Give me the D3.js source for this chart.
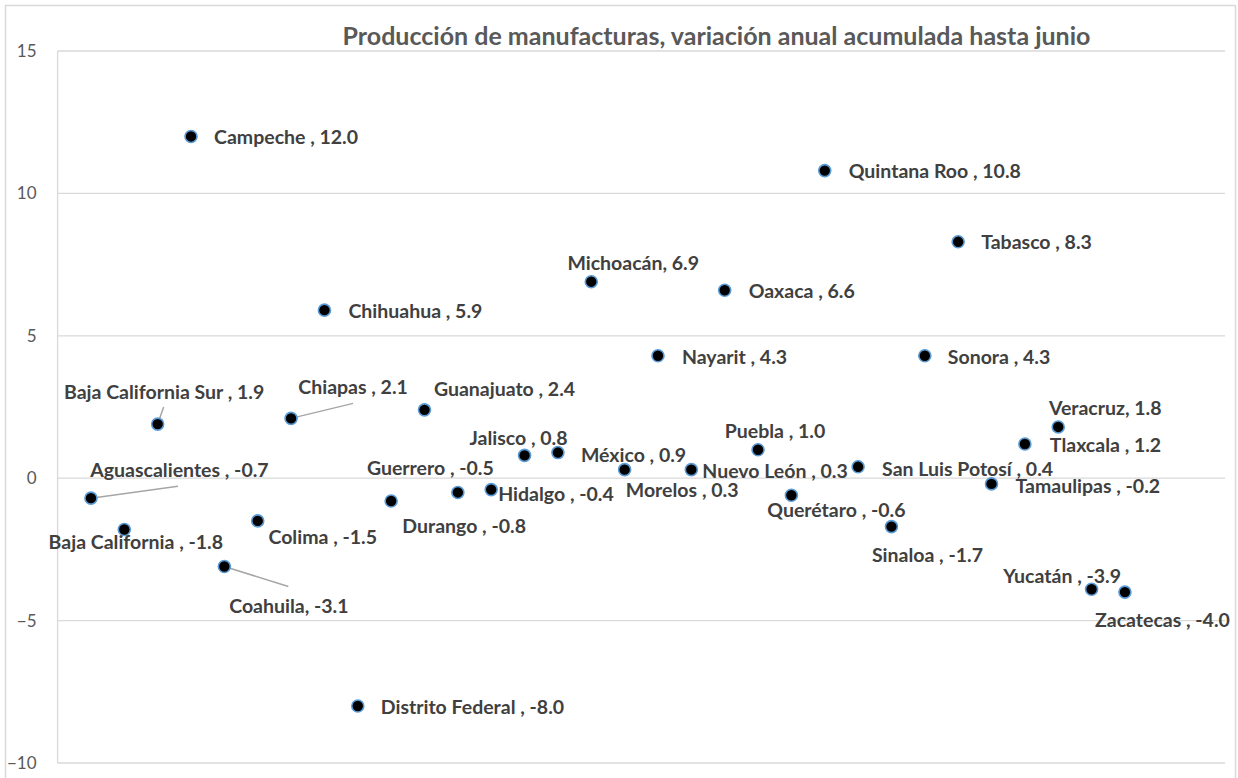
<!DOCTYPE html>
<html><head><meta charset="utf-8">
<script src="https://cdn.jsdelivr.net/npm/d3@7"></script>
<style>body{margin:0;background:#fff}svg{display:block}</style>
</head><body>
<script>
const states = ["Aguascalientes","Baja California","Baja California Sur","Campeche","Coahuila","Colima","Chiapas","Chihuahua","Distrito Federal","Durango","Guanajuato","Guerrero","Hidalgo","Jalisco","México","Michoacán","Morelos","Nayarit","Nuevo León","Oaxaca","Puebla","Querétaro","Quintana Roo","San Luis Potosí","Sinaloa","Sonora","Tabasco","Tamaulipas","Tlaxcala","Veracruz","Yucatán","Zacatecas"];
const values = [-0.7,-1.8,1.9,12.0,-3.1,-1.5,2.1,5.9,-8.0,-0.8,2.4,-0.5,-0.4,0.8,0.9,6.9,0.3,4.3,0.3,6.6,1.0,-0.6,10.8,0.4,-1.7,4.3,8.3,-0.2,1.2,1.8,-3.9,-4.0];
const labelSep = [" , "," , "," , "," , ",", "," , "," , "," , "," , "," , "," , "," , "," , "," , "," , ",", "," , "," , "," , "," , "," , "," , "," , "," , "," , "," , "," , "," , "," , ",", "," , "," , "];
const yTicks = [15,10,5,0,-5,-10];
const title = "Producción de manufacturas, variación anual acumulada hasta junio";

// label placement (pixel offsets from point): [anchor, dx, dy, leaderX, leaderY]
const labelPlace = [
 ["m",88.5,-28,87,-12],["m",11.5,13],["m",6.5,-32,6,-17],["s",23,1],["m",64.5,39,64,20],["m",65,16],
 ["m",62,-31,62,-15],["s",24,1],["s",23,1],["m",73,25],["m",80,-21],["m",-27.5,-24],
 ["s",7,4],["m",-6,-17],["s",23,2],["m",42,-19],["m",57.5,20],["s",24,1],["s",11,1],
 ["s",24,1],["m",17,-19],["m",45,15],["s",24,0],["s",24,2],["m",36,28],["s",23,1],
 ["s",23,0],["s",24,2],["s",25,1],["m",47,-19],["m",-29.5,-13],["m",37.5,28]
];

const W = 1238, H = 778;
const svg = d3.select("body").append("svg").attr("width",W).attr("height",H);
const font = "Lato, 'Open Sans', sans-serif";

svg.append("rect").attr("x",5.5).attr("y",5.5).attr("width",1230).attr("height",790)
  .attr("fill","#fff").attr("stroke","#d9d9d9").attr("stroke-width",1.5);

const x = d3.scaleLinear().domain([0,35]).range([57.6,1225]);
const y = d3.scaleLinear().domain([-10,15]).range([763,51]);

svg.append("g").selectAll("line").data(yTicks).join("line")
  .attr("x1",x(0)).attr("x2",x(35)).attr("y1",d=>y(d)).attr("y2",d=>y(d))
  .attr("stroke","#d9d9d9").attr("stroke-width",1.3);
svg.append("line").attr("x1",x(0)).attr("x2",x(0)).attr("y1",y(15)).attr("y2",y(-10))
  .attr("stroke","#d9d9d9").attr("stroke-width",1.3);

const yAxis = d3.axisLeft(y).tickValues(yTicks).tickSize(0).tickPadding(21);
const ga = svg.append("g").attr("transform",`translate(${x(0)},0)`).call(yAxis);
ga.select(".domain").remove();
ga.selectAll("text").attr("font-family",font).attr("font-size",17).attr("fill","#595959");

svg.append("text").attr("x",716.5).attr("y",45).attr("text-anchor","middle")
  .attr("font-family",font).attr("font-weight","bold").attr("font-size",25)
  .attr("fill","#595959").text(title);

const data = states.map((s,i)=>({s, v:values[i], i:i+1, sep:labelSep[i], p:labelPlace[i]}));

svg.append("g").selectAll("line").data(data.filter(d=>d.p.length>3)).join("line")
  .attr("x1",d=>x(d.i)).attr("y1",d=>y(d.v))
  .attr("x2",d=>x(d.i)+d.p[3]).attr("y2",d=>y(d.v)+d.p[4])
  .attr("stroke","#a6a6a6").attr("stroke-width",1.5);

svg.append("g").selectAll("circle").data(data).join("circle")
  .attr("cx",d=>x(d.i)).attr("cy",d=>y(d.v)).attr("r",6)
  .attr("fill","#000").attr("stroke","#5b9bd5").attr("stroke-width",1.6);

svg.append("g").selectAll("text").data(data).join("text")
  .attr("x",d=>x(d.i)+d.p[1]).attr("y",d=>y(d.v)+d.p[2])
  .attr("dy","0.36em")
  .attr("text-anchor",d=>d.p[0]==="m"?"middle":"start")
  .attr("font-family",font).attr("font-weight","bold").attr("font-size",19.5)
  .attr("fill","#404040")
  .text(d=>d.s+d.sep+d.v.toFixed(1));
</script>
</body></html>
